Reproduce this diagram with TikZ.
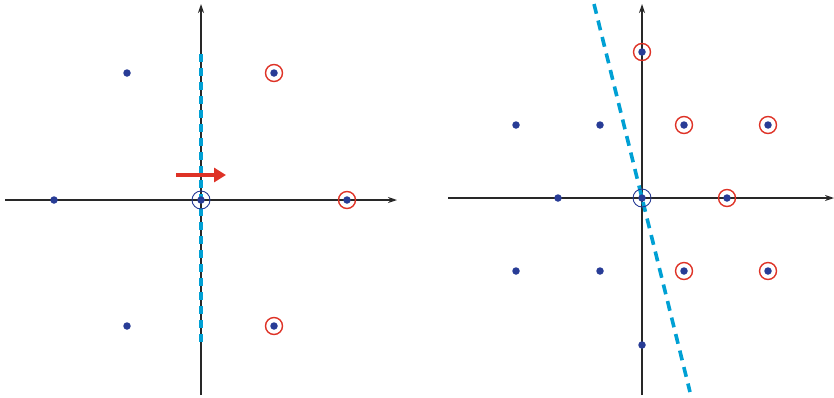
\documentclass[tikz,border=0pt]{standalone}
\usetikzlibrary{arrows.meta}
\definecolor{axisgray}{RGB}{40,40,40}
\definecolor{dotblue}{RGB}{40,60,150}
\definecolor{ringred}{RGB}{222,50,38}
\definecolor{cutcyan}{RGB}{0,160,212}
\tikzset{
  axis/.style={draw=axisgray,line width=1.3pt,-{Stealth[length=9pt,width=6pt]}},
  pt/.style={circle,fill=dotblue,inner sep=0pt,minimum size=7.5pt},
  redring/.style={circle,draw=ringred,line width=1.4pt,inner sep=0pt,minimum size=17pt},
  bluering/.style={circle,draw=dotblue,line width=0.9pt,inner sep=0pt,minimum size=18pt},
  cutline/.style={draw=cutcyan,line width=3.6pt,dash pattern=on 8pt off 6pt},
  cutlineB/.style={draw=cutcyan,line width=3.6pt,dash pattern=on 10pt off 7pt},
  movearrow/.style={draw=ringred,line width=4.5pt,-{Triangle[length=12pt,width=14pt]}}
}
\begin{document}
\begin{tikzpicture}[x=1pt,y=-1pt]
\useasboundingbox (0,0) rectangle (834,397);
% left lattice
\coordinate (LxA) at (5,200); \coordinate (LxB) at (397,200);
\coordinate (LyA) at (201,395); \coordinate (LyB) at (201,4);
\coordinate (LcA) at (201,54); \coordinate (LcB) at (201,347);
\draw[axis] (LxA) -- (LxB);
\draw[axis] (LyA) -- (LyB);
\draw[cutline] (LcA) -- (LcB);
\node[pt] (l1) at (54,200) {};
\node[pt] (l2) at (127,73) {};
\node[pt] (l3) at (127,326) {};
\node[pt] (l4) at (274,73) {};
\node[pt] (l5) at (274,326) {};
\node[pt] (l6) at (347,200) {};
\node[pt] (l0) at (201,200) {};
\node[redring] at (l4) {};
\node[redring] at (l5) {};
\node[redring] at (l6) {};
\node[bluering] at (l0) {};
\coordinate (sA) at (176,175); \coordinate (sB) at (226,175);
\draw[movearrow] (sA) -- (sB);
% right lattice
\coordinate (RxA) at (448,198); \coordinate (RxB) at (834,198);
\coordinate (RyA) at (642,395); \coordinate (RyB) at (642,4);
\coordinate (RcA) at (594,4); \coordinate (RcB) at (690,392);
\draw[axis] (RxA) -- (RxB);
\draw[axis] (RyA) -- (RyB);
\draw[cutlineB] (RcA) -- (RcB);
\node[pt] (r1) at (642,52) {};
\node[pt] (r2) at (516,125) {};
\node[pt] (r3) at (600,125) {};
\node[pt] (r4) at (684,125) {};
\node[pt] (r5) at (768,125) {};
\node[pt] (r6) at (558,198) {};
\node[pt] (r0) at (642,198) {};
\node[pt] (r7) at (727,198) {};
\node[pt] (r8) at (516,271) {};
\node[pt] (r9) at (600,271) {};
\node[pt] (r10) at (684,271) {};
\node[pt] (r11) at (768,271) {};
\node[pt] (r12) at (642,345) {};
\foreach \n in {r1,r4,r5,r7,r10,r11} \node[redring] at (\n) {};
\node[bluering] at (r0) {};
\end{tikzpicture}
\end{document}
